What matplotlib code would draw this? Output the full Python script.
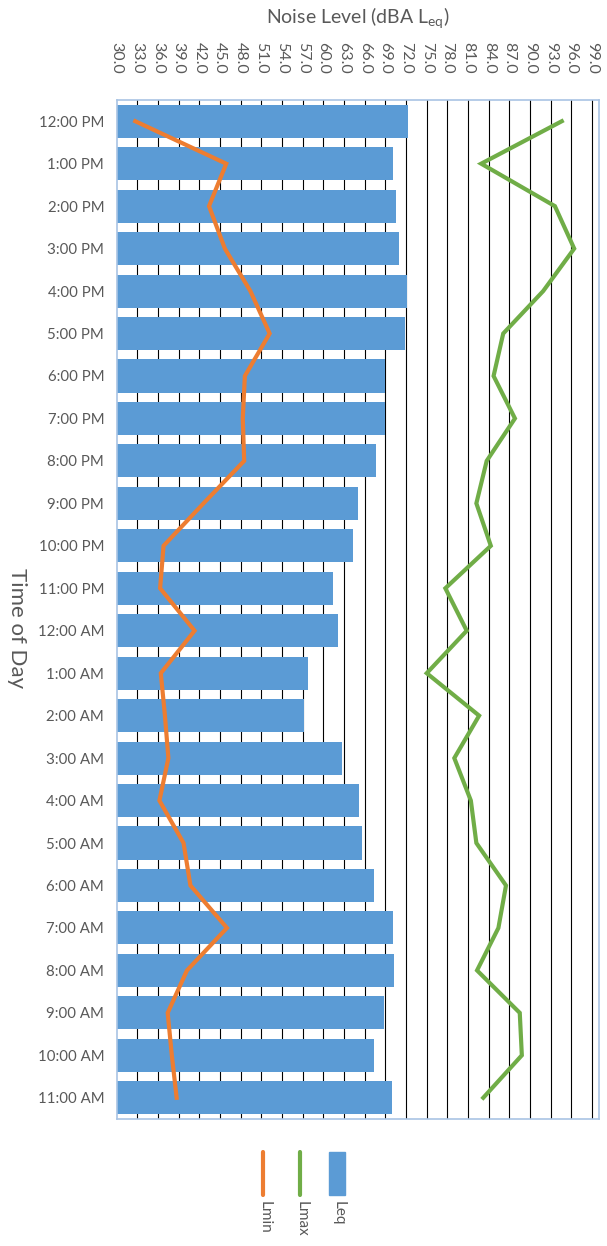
import matplotlib
matplotlib.use("Agg")
import matplotlib.pyplot as plt
from matplotlib.lines import Line2D
from matplotlib.patches import Rectangle
import numpy as np

plt.rcParams['font.family'] = ['Lato', 'DejaVu Sans']

times = ["12:00 PM", "1:00 PM", "2:00 PM", "3:00 PM", "4:00 PM", "5:00 PM",
         "6:00 PM", "7:00 PM", "8:00 PM", "9:00 PM", "10:00 PM", "11:00 PM",
         "12:00 AM", "1:00 AM", "2:00 AM", "3:00 AM", "4:00 AM", "5:00 AM",
         "6:00 AM", "7:00 AM", "8:00 AM", "9:00 AM", "10:00 AM", "11:00 AM"]
leq = [72.3, 70.1, 70.5, 71.0, 72.2, 71.8, 69.0, 68.9, 67.7, 65.0, 64.3, 61.4,
       62.1, 57.8, 57.2, 62.7, 65.1, 65.6, 67.3, 70.1, 70.3, 68.8, 67.3, 69.9]
lmax = [94.6, 82.9, 93.6, 96.4, 91.9, 86.1, 84.7, 87.8, 83.7, 82.2, 84.3, 77.7,
        80.8, 75.0, 82.6, 79.0, 81.4, 82.2, 86.5, 85.4, 82.3, 88.5, 88.8, 83.2]
lmin = [32.7, 45.9, 43.4, 45.7, 49.4, 52.2, 48.6, 48.3, 48.5, 42.6, 36.8, 36.3,
        41.3, 36.4, 37.0, 37.5, 36.2, 39.7, 40.7, 46.0, 40.2, 37.4, 38.0, 38.7]
xticks = np.arange(30, 100, 3)

BLUE = '#5B9BD5'
ORANGE = '#ED7D31'
GREEN = '#70AD47'
GRAY = '#595959'
W, H = 607, 1246

fig = plt.figure(figsize=(W / 100, H / 100), dpi=100)
ax = fig.add_axes([116.7 / W, 1 - 1119 / H, (599 - 116.7) / W, (1119 - 100) / H])

y = np.arange(len(times))
ax.barh(y, np.array(leq) - 30, left=30, height=0.78, color=BLUE, zorder=2)
ax.plot(lmax, y, color=GREEN, lw=3, zorder=3, solid_joinstyle='miter')
ax.plot(lmin, y, color=ORANGE, lw=3, zorder=3, solid_joinstyle='miter')

ax.set_xlim(30, 100)
ax.set_ylim(len(times) - 0.5, -0.5)
ax.set_xticks(xticks)
ax.set_xticklabels([f"{v:.1f}" for v in xticks], rotation=-90)
ax.xaxis.tick_top()
ax.xaxis.set_label_position('top')
ax.tick_params(axis='x', length=0, pad=19, labelsize=11.5, colors=GRAY)
ax.set_yticks(y)
ax.set_yticklabels(times)
ax.tick_params(axis='y', length=0, pad=9, labelsize=10.8, colors=GRAY)
for v in xticks[1:]:
    ax.axvline(v, color='black', lw=0.8, zorder=1)
for s in ax.spines.values():
    s.set_color('#A9C4E4')
    s.set_linewidth(1.2)

fig.text(358 / W, 1 - 18 / H, r'Noise Level (dBA L$_{\mathregular{eq}}$)',
         ha='center', va='center', fontsize=14, color=GRAY)
fig.text(17 / W, 1 - 628 / H, 'Time of Day', rotation=-90,
         ha='center', va='center', fontsize=16, color=GRAY)

# legend (rotated)
leg = [("Lmin", ORANGE, 'line', 263), ("Lmax", GREEN, 'line', 300), ("Leq", BLUE, 'rect', 337)]
for name, c, kind, xc in leg:
    if kind == 'line':
        fig.add_artist(Line2D([xc / W, xc / W], [1 - 1152 / H, 1 - 1195 / H],
                              color=c, lw=3, solid_capstyle='round'))
    else:
        fig.add_artist(Rectangle(((xc - 8) / W, 1 - 1195 / H), 16 / W, 43 / H,
                                 color=c, transform=fig.transFigure))
    fig.text(xc / W + 2 / W, 1 - 1201 / H, name, rotation=-90, ha='center', va='top',
             fontsize=11, color=GRAY)

fig.savefig('out.png', dpi=100)
